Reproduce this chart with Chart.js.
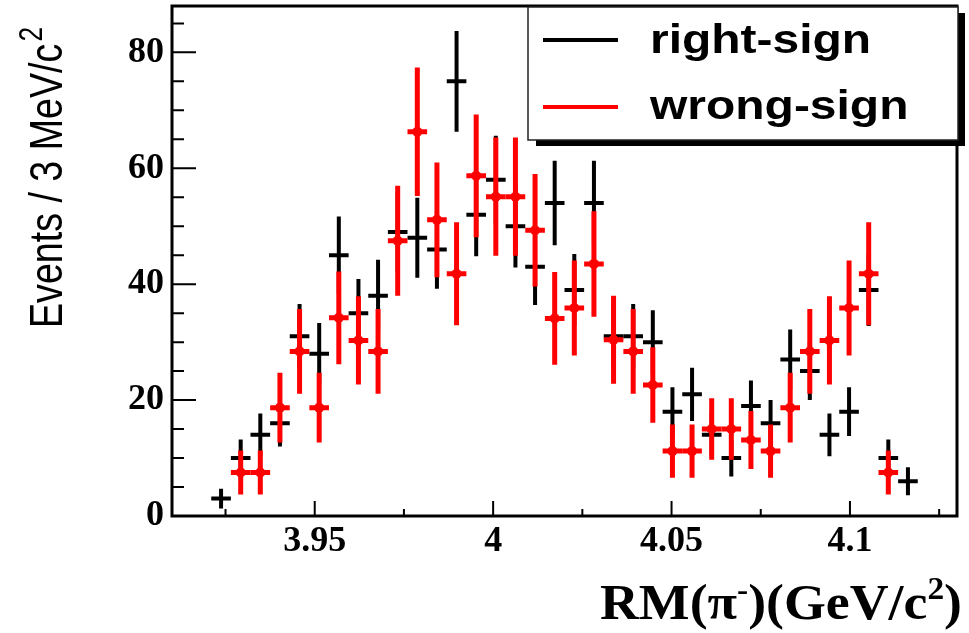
<!DOCTYPE html>
<html>
<head>
<meta charset="utf-8">
<script src="https://cdn.jsdelivr.net/npm/chart.js@4.4.1/dist/chart.umd.min.js"></script>
<style>
  html, body { margin: 0; padding: 0; background: #fff; }
  #wrap { width: 969px; height: 633px; position: relative; }
</style>
</head>
<body>
<div id="wrap"><canvas id="rmChart"></canvas></div>
<script>
// 40 bins between 3.91 and 4.13
const binCenters = [
  3.91275, 3.91825, 3.92375, 3.92925, 3.93475, 3.94025, 3.94575, 3.95125, 3.95675, 3.96225,
  3.96775, 3.97325, 3.97875, 3.98425, 3.98975, 3.99525, 4.00075, 4.00625, 4.01175, 4.01725,
  4.02275, 4.02825, 4.03375, 4.03925, 4.04475, 4.05025, 4.05575, 4.06125, 4.06675, 4.07225,
  4.07775, 4.08325, 4.08875, 4.09425, 4.09975, 4.10525, 4.11075, 4.11625, 4.12175, 4.12725
];
const binHalfWidth = 0.00275;

const rightSign = [
  0, 0, 3, 10, 14, 16, 31, 28, 45, 35,
  38, 49, 48, 46, 75, 52, 58, 50, 43, 54,
  39, 54, 31, 31, 30, 18, 21, 14, 10, 19,
  16, 27, 25, 14, 18, 39, 10, 6, 0, 0
];
const rightSignErr = [
  0, 0, 1.7, 3.2, 3.7, 4.0, 5.6, 5.3, 6.7, 5.9,
  6.2, 7.0, 6.9, 6.8, 8.7, 7.2, 7.6, 7.1, 6.6, 7.3,
  6.2, 7.3, 5.6, 5.6, 5.5, 4.2, 4.6, 3.7, 3.2, 4.4,
  4.0, 5.2, 5.0, 3.7, 4.2, 6.2, 3.2, 2.4, 0, 0
];
const wrongSign = [
  0, 0, 0, 7.5, 7.5, 18.7, 28.4, 18.7, 34.2, 30.3,
  28.4, 47.5, 66.3, 51.1, 41.8, 58.7, 55.1, 55.1, 49.3, 34.1,
  35.9, 43.5, 30.4, 28.4, 22.6, 11.2, 11.2, 15.0, 15.0, 13.1,
  11.2, 18.7, 28.4, 30.3, 35.9, 41.8, 7.5, 0, 0, 0
];
const wrongSignErr = [
  0, 0, 0, 3.8, 3.8, 6.0, 7.3, 6.0, 8.0, 7.6,
  7.3, 9.5, 11.1, 9.9, 8.9, 10.6, 10.2, 10.2, 9.7, 8.0,
  8.2, 9.1, 7.6, 7.3, 6.5, 4.6, 4.6, 5.3, 5.3, 5.0,
  4.6, 6.0, 7.3, 7.6, 8.2, 8.9, 3.8, 0, 0, 0
];

const xTickValues = [3.95, 4, 4.05, 4.1];
const xMinorTicks = [3.925, 3.975, 4.025, 4.075, 4.125];
const yTickValues = [0, 20, 40, 60, 80];
const yMinorStep = 5;

function toPoints(values, errs) {
  const pts = [];
  values.forEach((v, i) => {
    if (v > 0) pts.push({ x: binCenters[i], y: v, err: errs[i] });
  });
  return pts;
}

function stretchText(ctx, text, x, y, sx) {
  ctx.save();
  ctx.translate(x, y);
  ctx.scale(sx, 1);
  ctx.fillText(text, 0, 0);
  ctx.restore();
}

const errorBars = {
  id: 'errorBars',
  beforeDatasetsDraw(chart) {
    const { ctx, chartArea: a, scales: { x, y } } = chart;
    ctx.save();
    ctx.beginPath();
    ctx.rect(a.left, a.top, a.right - a.left, a.bottom - a.top);
    ctx.clip();
    chart.data.datasets.forEach(ds => {
      ctx.strokeStyle = ds.borderColor;
      ctx.lineWidth = ds.errWidth;
      ctx.lineCap = 'butt';
      ds.data.forEach(p => {
        const px = x.getPixelForValue(p.x);
        const py = y.getPixelForValue(p.y);
        ctx.beginPath();
        ctx.moveTo(x.getPixelForValue(p.x - binHalfWidth), py);
        ctx.lineTo(x.getPixelForValue(p.x + binHalfWidth), py);
        ctx.moveTo(px, y.getPixelForValue(p.y + p.err));
        ctx.lineTo(px, y.getPixelForValue(Math.max(0, p.y - p.err)));
        ctx.stroke();
      });
    });
    ctx.restore();
  }
};

const frameAndText = {
  id: 'frameAndText',
  afterDraw(chart) {
    const { ctx, chartArea: a, scales: { x, y } } = chart;
    ctx.save();

    // ticks inside the frame
    ctx.strokeStyle = '#000';
    ctx.lineWidth = 2;
    ctx.beginPath();
    for (let v = 0; v <= y.max; v += yMinorStep) {
      const py = y.getPixelForValue(v);
      const len = yTickValues.includes(v) ? 24 : 12;
      ctx.moveTo(a.left, py);
      ctx.lineTo(a.left + len, py);
    }
    xTickValues.forEach(v => {
      const px = x.getPixelForValue(v);
      ctx.moveTo(px, a.bottom);
      ctx.lineTo(px, a.bottom - 15);
    });
    xMinorTicks.forEach(v => {
      const px = x.getPixelForValue(v);
      ctx.moveTo(px, a.bottom);
      ctx.lineTo(px, a.bottom - 7);
    });
    ctx.stroke();

    // frame
    ctx.lineWidth = 3;
    ctx.strokeRect(a.left, a.top, a.right - a.left, a.bottom - a.top);

    // legend with shadow
    ctx.fillStyle = '#000';
    ctx.fillRect(536, 13, 429, 133);
    ctx.fillStyle = '#fff';
    ctx.fillRect(528, 7, 430, 133);
    ctx.strokeStyle = '#222';
    ctx.lineWidth = 1.5;
    ctx.strokeRect(528, 7, 430, 133);

    ctx.lineWidth = 4;
    ctx.strokeStyle = '#000';
    ctx.beginPath(); ctx.moveTo(543, 40); ctx.lineTo(618, 40); ctx.stroke();
    ctx.strokeStyle = '#ff0000';
    ctx.beginPath(); ctx.moveTo(543, 107); ctx.lineTo(618, 107); ctx.stroke();

    ctx.fillStyle = '#000';
    ctx.textAlign = 'left';
    ctx.textBaseline = 'alphabetic';
    ctx.font = 'bold 41px "Liberation Sans", Arial, sans-serif';
    stretchText(ctx, 'right-sign', 650, 53, 1.17);
    stretchText(ctx, 'wrong-sign', 650, 119, 1.17);

    // y axis title (squeezed along its length, as in the original)
    ctx.save();
    ctx.translate(62, 328);
    ctx.rotate(-Math.PI / 2);
    ctx.scale(0.8, 1);
    ctx.font = '47px "Liberation Sans", Arial, sans-serif';
    const main = 'Events / 3 MeV/c';
    ctx.fillText(main, 0, 0);
    const w = ctx.measureText(main).width;
    ctx.font = '33px "Liberation Sans", Arial, sans-serif';
    ctx.fillText('2', w + 3, -20);
    ctx.restore();

    // x axis title, right aligned
    const big = 'bold 50px "Liberation Serif", "Times New Roman", serif';
    const small = 'bold 31px "Liberation Serif", "Times New Roman", serif';
    const parts = [
      { t: 'RM(\u03c0', f: big, dy: 0 },
      { t: '-', f: small, dy: -19 },
      { t: ')(GeV/c', f: big, dy: 0 },
      { t: '2', f: small, dy: -20 },
      { t: ')', f: big, dy: 0 }
    ];
    let total = 0;
    parts.forEach(p => { ctx.font = p.f; p.w = ctx.measureText(p.t).width; total += p.w; });
    const sx = 362 / total;
    ctx.save();
    ctx.translate(962 - 362, 619);
    ctx.scale(sx, 1);
    let cx = 0;
    parts.forEach(p => {
      ctx.font = p.f;
      ctx.fillText(p.t, cx, p.dy);
      cx += p.w;
    });
    ctx.restore();

    ctx.restore();
  }
};

const tickFont = { family: '"Liberation Serif", "Times New Roman", serif', size: 36, weight: 'bold' };

new Chart(document.getElementById('rmChart'), {
  type: 'scatter',
  data: {
    datasets: [
      {
        label: 'right-sign',
        data: toPoints(rightSign, rightSignErr),
        borderColor: '#000000',
        backgroundColor: '#000000',
        errWidth: 4,
        pointRadius: 0
      },
      {
        label: 'wrong-sign',
        data: toPoints(wrongSign, wrongSignErr),
        borderColor: '#ff0000',
        backgroundColor: '#ff0000',
        errWidth: 5,
        pointRadius: 5,
        pointBorderWidth: 0
      }
    ]
  },
  options: {
    responsive: true,
    maintainAspectRatio: false,
    animation: false,
    layout: { padding: { left: 0, right: 12, top: 6, bottom: 0 } },
    plugins: {
      legend: { display: false },
      tooltip: { enabled: false }
    },
    scales: {
      x: {
        type: 'linear',
        min: 3.91,
        max: 4.13,
        grid: { display: false, drawTicks: false },
        border: { display: false },
        afterBuildTicks: s => { s.ticks = xTickValues.map(v => ({ value: v })); },
        afterFit: s => { s.height = 117; s.paddingLeft = 0; s.paddingRight = 0; },
        ticks: {
          font: tickFont,
          color: '#000',
          padding: 4,
          maxRotation: 0,
          autoSkip: false,
          callback: v => String(v)
        }
      },
      y: {
        min: 0,
        max: 88,
        grid: { display: false, drawTicks: false },
        border: { display: false },
        afterBuildTicks: s => { s.ticks = yTickValues.map(v => ({ value: v })); },
        afterFit: s => { s.width = 172; s.paddingTop = 0; s.paddingBottom = 0; },
        ticks: {
          font: tickFont,
          color: '#000',
          padding: 8,
          autoSkip: false,
          callback: v => String(v)
        }
      }
    }
  },
  plugins: [errorBars, frameAndText]
});
</script>
</body>
</html>
